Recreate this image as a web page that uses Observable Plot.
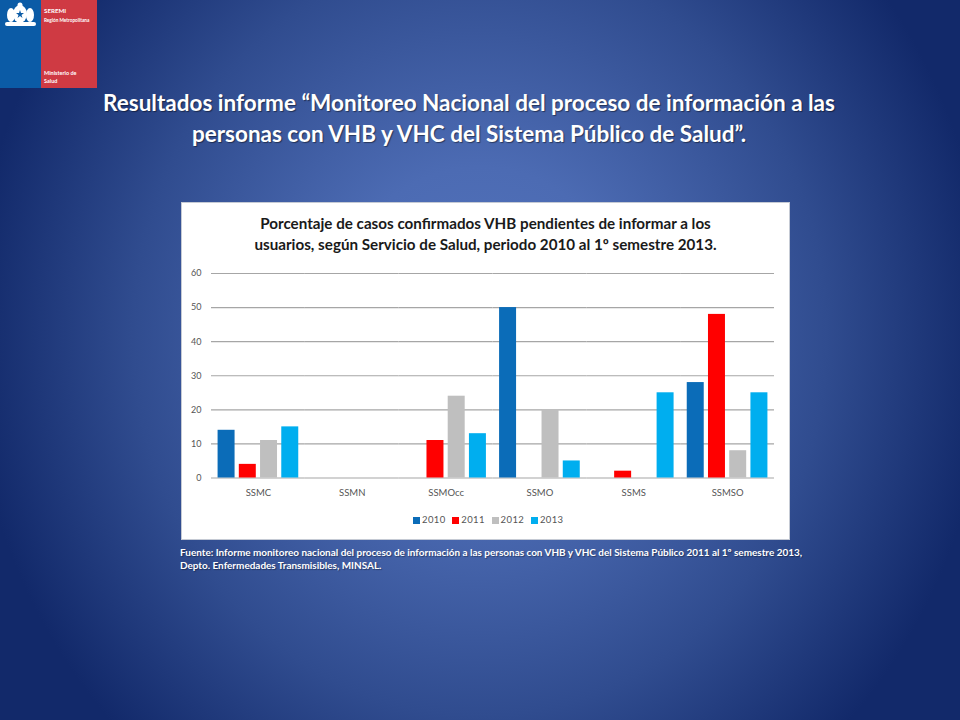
<!DOCTYPE html>
<html lang="es">
<head>
<meta charset="utf-8">
<script src="https://cdn.jsdelivr.net/npm/d3@7"></script>
<script src="https://cdn.jsdelivr.net/npm/@observablehq/plot@0.6"></script>
<style>
html,body{margin:0;padding:0;width:960px;height:720px;overflow:hidden}
body{position:relative;font-family:Lato,sans-serif;background:radial-gradient(ellipse 510px 560px at 480px 335px,#5474be 0%,#4c6bb3 30%,#304c8f 68%,#12296a 100%),#0d2565}
.abs{position:absolute}
#logoBlue{left:0;top:0;width:41px;height:88px;background:#0b5ba6}
#logoRed{left:41px;top:0;width:56px;height:88px;background:#cf3a43;color:#fff;font-weight:700}
#logoRed div{position:absolute;left:3px;white-space:nowrap}
#title{left:40px;top:87px;width:858px;text-align:center;color:#fff;font-weight:700;font-size:22.5px;line-height:31px;text-shadow:1px 1px 1px rgba(0,0,0,.45)}
#panel{left:181px;top:202px;width:609px;height:338px;background:#fff;box-shadow:inset 0 0 0 1px #c5cad4}
#chartTitle{left:181px;top:213px;width:609px;text-align:center;color:#1a1a1a;font-weight:700;font-size:15.2px;line-height:21px}
#plot{left:181px;top:202px}
#legend{left:413px;top:514px;display:flex;font-size:9.5px;letter-spacing:.4px;color:#555;line-height:12px}
#legend span.item{display:flex;align-items:center;width:39.3px}
#legend i{display:inline-block;width:7px;height:7px;margin-right:2px}
#source{left:180px;top:546px;width:650px;color:#fff;font-weight:700;font-size:9.95px;line-height:13px;white-space:nowrap;text-shadow:1px 1px 1px rgba(0,0,0,.35)}
</style>
</head>
<body>
<div class="abs" id="logoBlue">
<svg width="41" height="30" viewBox="0 0 41 30" style="position:absolute;left:0;top:2px"><g fill="#fff"><ellipse cx="20" cy="12" rx="7" ry="9"/><ellipse cx="11" cy="13" rx="4" ry="7"/><ellipse cx="30" cy="13" rx="4" ry="7"/><rect x="5" y="20" width="31" height="4" rx="2"/><circle cx="20" cy="3" r="2.500"/></g><path d="M20 8l1 3h3l-2.500 2 1 3-2.500-2-2.500 2 1-3-2.500-2h3z" fill="#0b5ba6"/></svg>
</div>
<div class="abs" id="logoRed">
<div style="top:7px;font-size:6.2px">SEREMI</div>
<div style="top:17px;font-size:4.7px">Región Metropolitana</div>
<div style="top:70px;font-size:5.5px">Ministerio de</div>
<div style="top:78px;font-size:5.5px">Salud</div>
</div>
<div class="abs" id="title">Resultados informe “Monitoreo Nacional del proceso de información a las<br>personas con VHB y VHC del Sistema Público de Salud”.</div>
<div class="abs" id="panel"></div>
<div class="abs" id="plot"></div>
<div class="abs" id="chartTitle">Porcentaje de casos confirmados VHB pendientes de informar a los<br>usuarios, según Servicio de Salud, periodo 2010 al 1º semestre 2013.</div>
<div class="abs" id="legend"></div>
<div class="abs" id="source">Fuente: Informe monitoreo nacional del proceso de información a las personas con VHB y VHC del Sistema Público 2011 al 1º semestre 2013,<br>Depto. Enfermedades Transmisibles, MINSAL.</div>
<script>
const services = ["SSMC","SSMN","SSMOcc","SSMO","SSMS","SSMSO"];
const years = ["2010","2011","2012","2013"];
const colors = ["#0b6cb8","#ff0000","#bfbfbf","#00aeef"];
const values2010 = [14,0,0,50,0,28];
const values2011 = [4,0,11,0,2,48];
const values2012 = [11,0,24,20,0,8];
const values2013 = [15,0,13,5,25,25];
const yTicks = [0,10,20,30,40,50,60];

const series = [values2010,values2011,values2012,values2013];
const rows = services.flatMap((s,i)=>years.map((y,j)=>({service:s,year:y,value:series[j][i]})));

const chart = Plot.plot({
  width:609,height:338,
  marginLeft:30,marginRight:16,marginTop:71,marginBottom:62.5,
  style:{background:"transparent",fontFamily:"Lato,sans-serif"},
  fx:{domain:services,padding:0,round:false,label:null},
  x:{domain:years,paddingInner:0.2,paddingOuter:0.31,round:false,axis:null},
  y:{domain:[0,60],ticks:yTicks,label:null},
  color:{domain:years,range:colors},
  marks:[
    Plot.ruleY(yTicks,{stroke:"#a6a6a6",strokeWidth:1.1}),
    Plot.barY(rows,{fx:"service",x:"year",y:"value",fill:"year"}),
    Plot.axisY({ticks:yTicks,tickSize:0,tickPadding:10,fontSize:9,fill:"#555",label:null}),
    Plot.axisFx({anchor:"bottom",tickSize:0,tickPadding:11,fontSize:9.5,fill:"#555",label:null})
  ]
});
document.getElementById("plot").append(chart);

const legend = document.getElementById("legend");
years.forEach((y,i)=>{
  const item=document.createElement("span");item.className="item";
  const sw=document.createElement("i");sw.style.background=colors[i];
  item.append(sw,document.createTextNode(y));legend.append(item);
});
</script>
</body>
</html>
